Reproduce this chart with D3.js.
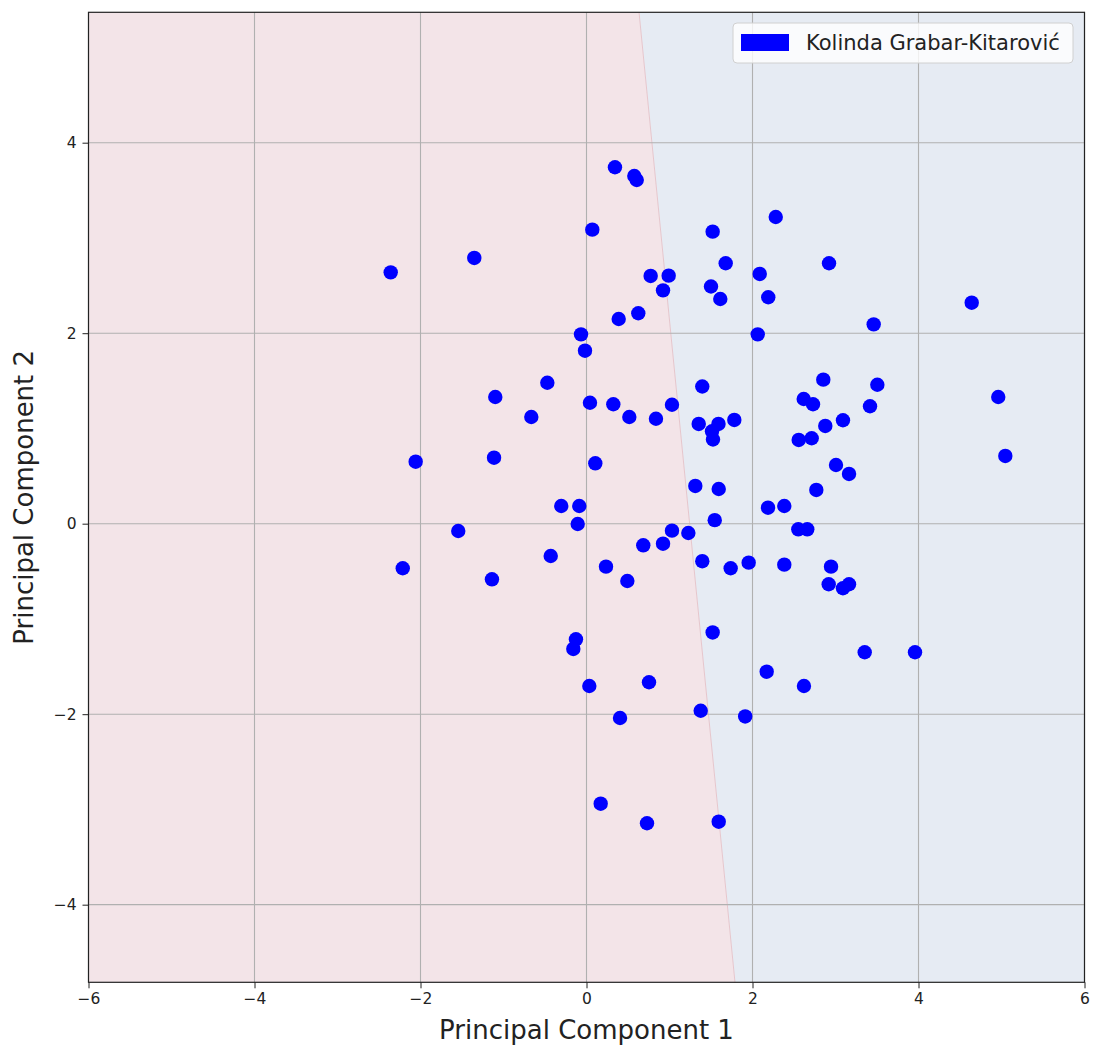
<!DOCTYPE html>
<html>
<head>
<meta charset="utf-8">
<script src="https://cdn.jsdelivr.net/npm/d3@7"></script>
<style>
  html, body { margin: 0; padding: 0; background: #ffffff; }
  svg { display: block; font-family: "DejaVu Sans", sans-serif; }
</style>
</head>
<body>
<svg id="chart" width="1094" height="1045"></svg>
<script>
// Projected samples on the first two principal components
const pc1 = [0.343, 0.576, 0.605, 2.280, 0.070, 1.520, -2.359, -1.352, 1.677, 0.773,
  0.990, 2.087, 2.922, 0.922, 1.500, 1.612, 2.190, 4.641, 0.624, 0.388,
  3.460, 2.063, -0.066, -0.018, -0.472, -1.099, 1.395, 2.853, 3.504, 4.961,
  -0.665, 0.042, 0.323, 0.516, 0.837, 1.030, 1.352, 1.590, 1.781, 1.512,
  1.524, 2.617, 2.729, 3.416, 3.090, 2.877, 2.713, 2.557, -2.058, -1.114,
  0.106, 3.006, 3.163, 5.046, 1.311, 1.593, 2.769, -0.304, -0.087, 2.187,
  2.383, -1.545, -0.106, 1.545, 1.030, 1.227, 2.552, 2.660, 0.684, 0.922,
  -0.431, -2.214, 0.235, 0.492, -1.139, 1.395, 1.737, 1.954, 2.383, 2.946,
  2.918, 3.090, 3.163, 1.520, -0.127, -0.159, 3.352, 3.958, 2.171, 0.034,
  0.753, 2.620, 1.376, 1.912, 0.404, 0.171, 0.729, 1.593];
const pc2 = [3.742, 3.650, 3.608, 3.220, 3.087, 3.066, 2.639, 2.790, 2.734, 2.601,
  2.604, 2.622, 2.734, 2.450, 2.490, 2.359, 2.377, 2.320, 2.209, 2.149,
  2.093, 1.988, 1.988, 1.816, 1.480, 1.330, 1.440, 1.512, 1.459, 1.330,
  1.120, 1.270, 1.254, 1.120, 1.102, 1.249, 1.047, 1.047, 1.089, 0.970,
  0.884, 1.309, 1.254, 1.233, 1.086, 1.026, 0.897, 0.879, 0.651, 0.693,
  0.634, 0.616, 0.522, 0.711, 0.396, 0.364, 0.354, 0.186, 0.186, 0.168,
  0.186, -0.077, -0.003, 0.037, -0.073, -0.098, -0.059, -0.059, -0.227, -0.210,
  -0.339, -0.468, -0.451, -0.602, -0.584, -0.394, -0.468, -0.409, -0.430, -0.451,
  -0.636, -0.678, -0.636, -1.142, -1.214, -1.315, -1.350, -1.350, -1.554, -1.704,
  -1.665, -1.704, -1.964, -2.024, -2.040, -2.940, -3.145, -3.129];

// Classifier decision boundary (PC1 position at the top and bottom of the view)
const boundaryPC2 = [5.369, -4.815];
const boundaryPC1 = [0.633, 1.789];

const xDomain = [-6, 6];
const yDomain = [-4.815, 5.369];
const xTicks = [-6, -4, -2, 0, 2, 4, 6];
const yTicks = [-4, -2, 0, 2, 4];
const legendLabels = ["Kolinda Grabar-Kitarović"];

const plot = { left: 88.5, right: 1084.5, top: 12.3, bottom: 982.3 };

const svg = d3.select("#chart");
const x = d3.scaleLinear().domain(xDomain).range([plot.left, plot.right]);
const y = d3.scaleLinear().domain(yDomain).range([plot.bottom, plot.top]);

const fmt = v => (v < 0 ? "\u2212" + Math.abs(v) : String(v));

// Decision regions
const topX = x(boundaryPC1[0]), botX = x(boundaryPC1[1]);
const topY = y(boundaryPC2[0]), botY = y(boundaryPC2[1]);
svg.append("path")
  .attr("d", `M${plot.left},${topY}L${topX},${topY}L${botX},${botY}L${plot.left},${botY}Z`)
  .attr("fill", "#f3e4e8");
svg.append("path")
  .attr("d", `M${topX},${topY}L${plot.right},${topY}L${plot.right},${botY}L${botX},${botY}Z`)
  .attr("fill", "#e6ebf3");
svg.append("line")
  .attr("x1", topX).attr("y1", topY).attr("x2", botX).attr("y2", botY)
  .attr("stroke", "#e6c6cc").attr("stroke-width", 1);

// Grid
const grid = svg.append("g").attr("stroke", "#b0b0b0").attr("stroke-width", 1.1);
xTicks.forEach(t => grid.append("line")
  .attr("x1", x(t)).attr("x2", x(t)).attr("y1", plot.top).attr("y2", plot.bottom));
yTicks.forEach(t => grid.append("line")
  .attr("y1", y(t)).attr("y2", y(t)).attr("x1", plot.left).attr("x2", plot.right));

// Points
svg.append("g").selectAll("circle")
  .data(pc1.map((v, i) => [v, pc2[i]]))
  .join("circle")
  .attr("cx", d => x(d[0]))
  .attr("cy", d => y(d[1]))
  .attr("r", 7.2)
  .attr("fill", "#0000ff");

// Axes
const xAxis = d3.axisBottom(x).tickValues(xTicks).tickFormat(fmt).tickSize(6).tickPadding(5);
const yAxis = d3.axisLeft(y).tickValues(yTicks).tickFormat(fmt).tickSize(6).tickPadding(6);

const gx = svg.append("g").attr("transform", `translate(0,${plot.bottom})`).call(xAxis);
const gy = svg.append("g").attr("transform", `translate(${plot.left},0)`).call(yAxis);
[gx, gy].forEach(g => {
  g.select(".domain").remove();
  g.selectAll(".tick line").attr("stroke", "#222").attr("stroke-width", 1);
  g.selectAll(".tick text").attr("fill", "#222")
    .style("font-family", "'DejaVu Sans', sans-serif").style("font-size", "15.5px");
});

// Frame
svg.append("rect")
  .attr("x", plot.left).attr("y", plot.top)
  .attr("width", plot.right - plot.left).attr("height", plot.bottom - plot.top)
  .attr("fill", "none").attr("stroke", "#222").attr("stroke-width", 1.2);

// Axis titles
svg.append("text")
  .attr("x", (plot.left + plot.right) / 2).attr("y", 1039)
  .attr("text-anchor", "middle").attr("fill", "#222")
  .style("font-size", "26px")
  .text("Principal Component 1");
svg.append("text")
  .attr("transform", `translate(33,${(plot.top + plot.bottom) / 2}) rotate(-90)`)
  .attr("text-anchor", "middle").attr("fill", "#222")
  .style("font-size", "26px")
  .text("Principal Component 2");

// Legend
const lg = svg.append("g");
lg.append("rect")
  .attr("x", 733).attr("y", 23).attr("width", 340).attr("height", 40)
  .attr("rx", 4).attr("ry", 4)
  .attr("fill", "#ffffff").attr("fill-opacity", 0.8)
  .attr("stroke", "#d0d0d0").attr("stroke-width", 1);
legendLabels.forEach((label, i) => {
  lg.append("rect")
    .attr("x", 741).attr("y", 34 + i * 30).attr("width", 48).attr("height", 17)
    .attr("fill", "#0000ff");
  lg.append("text")
    .attr("x", 806).attr("y", 50 + i * 30)
    .attr("fill", "#222").style("font-size", "21px")
    .text(label);
});
</script>
</body>
</html>
